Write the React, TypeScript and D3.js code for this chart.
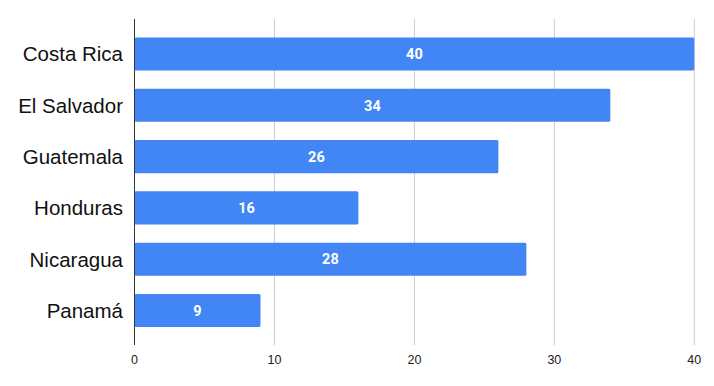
import React, { useRef, useEffect } from "react";
import * as d3 from "d3";

const countries = ["Costa Rica", "El Salvador", "Guatemala", "Honduras", "Nicaragua", "Panamá"];
const values = [40, 34, 26, 16, 28, 9];
const xTicks = [0, 10, 20, 30, 40];

const width = 714;
const height = 386;

const App = () => {
  const ref = useRef(null);

  useEffect(() => {
    const svg = d3.select(ref.current);
    svg.selectAll("*").remove();

    const x = d3.scaleLinear().domain([0, 40]).range([134.5, 694.3]);
    const y = d3
      .scaleBand()
      .domain(countries)
      .range([37.5, 327])
      .paddingInner(0.355)
      .paddingOuter(0);

    const gridTop = 19;
    const gridBottom = 345;

    // gridlines
    svg
      .append("g")
      .selectAll("line")
      .data(xTicks.slice(1))
      .enter()
      .append("line")
      .attr("x1", (d: any) => x(d))
      .attr("x2", (d: any) => x(d))
      .attr("y1", gridTop)
      .attr("y2", gridBottom)
      .attr("stroke", "#cccccc")
      .attr("stroke-width", 1);

    // tick labels
    svg
      .append("g")
      .selectAll("text")
      .data(xTicks)
      .enter()
      .append("text")
      .attr("x", (d: any) => x(d))
      .attr("y", 363.5)
      .attr("text-anchor", "middle")
      .attr("font-family", "'Liberation Sans', Arial, sans-serif")
      .attr("font-size", 12.5)
      .attr("fill", "#222")
      .text((d: any) => d);

    // bars
    svg
      .append("g")
      .selectAll("rect")
      .data(values)
      .enter()
      .append("rect")
      .attr("x", x(0))
      .attr("y", (_d: any, i: number) => y(countries[i]) as number)
      .attr("width", (d: any) => x(d) - x(0))
      .attr("height", y.bandwidth())
      .attr("rx", 1.5)
      .attr("fill", "#4285f4");

    // value labels
    svg
      .append("g")
      .selectAll("text")
      .data(values)
      .enter()
      .append("text")
      .attr("x", (d: any) => (x(0) + x(d)) / 2)
      .attr("y", (_d: any, i: number) => (y(countries[i]) as number) + y.bandwidth() / 2)
      .attr("dy", "0.36em")
      .attr("text-anchor", "middle")
      .attr("font-family", "Roboto, sans-serif")
      .attr("font-weight", "bold")
      .attr("font-size", 14.5)
      .attr("fill", "#ffffff")
      .text((d: any) => d);

    // category labels
    svg
      .append("g")
      .selectAll("text")
      .data(countries)
      .enter()
      .append("text")
      .attr("x", 123)
      .attr("y", (d: any) => (y(d) as number) + y.bandwidth() / 2)
      .attr("dy", "0.36em")
      .attr("text-anchor", "end")
      .attr("font-family", "'Liberation Sans', Arial, sans-serif")
      .attr("font-size", 20.5)
      .attr("fill", "#111")
      .text((d: any) => d);

    // baseline axis
    svg
      .append("line")
      .attr("x1", x(0))
      .attr("x2", x(0))
      .attr("y1", gridTop)
      .attr("y2", gridBottom)
      .attr("stroke", "#333")
      .attr("stroke-width", 1);
  }, []);

  return (
    <svg
      ref={ref}
      width={width}
      height={height}
      style={{ position: "absolute", left: 0, top: 0, background: "#fff" }}
    ></svg>
  );
};

export default App;
